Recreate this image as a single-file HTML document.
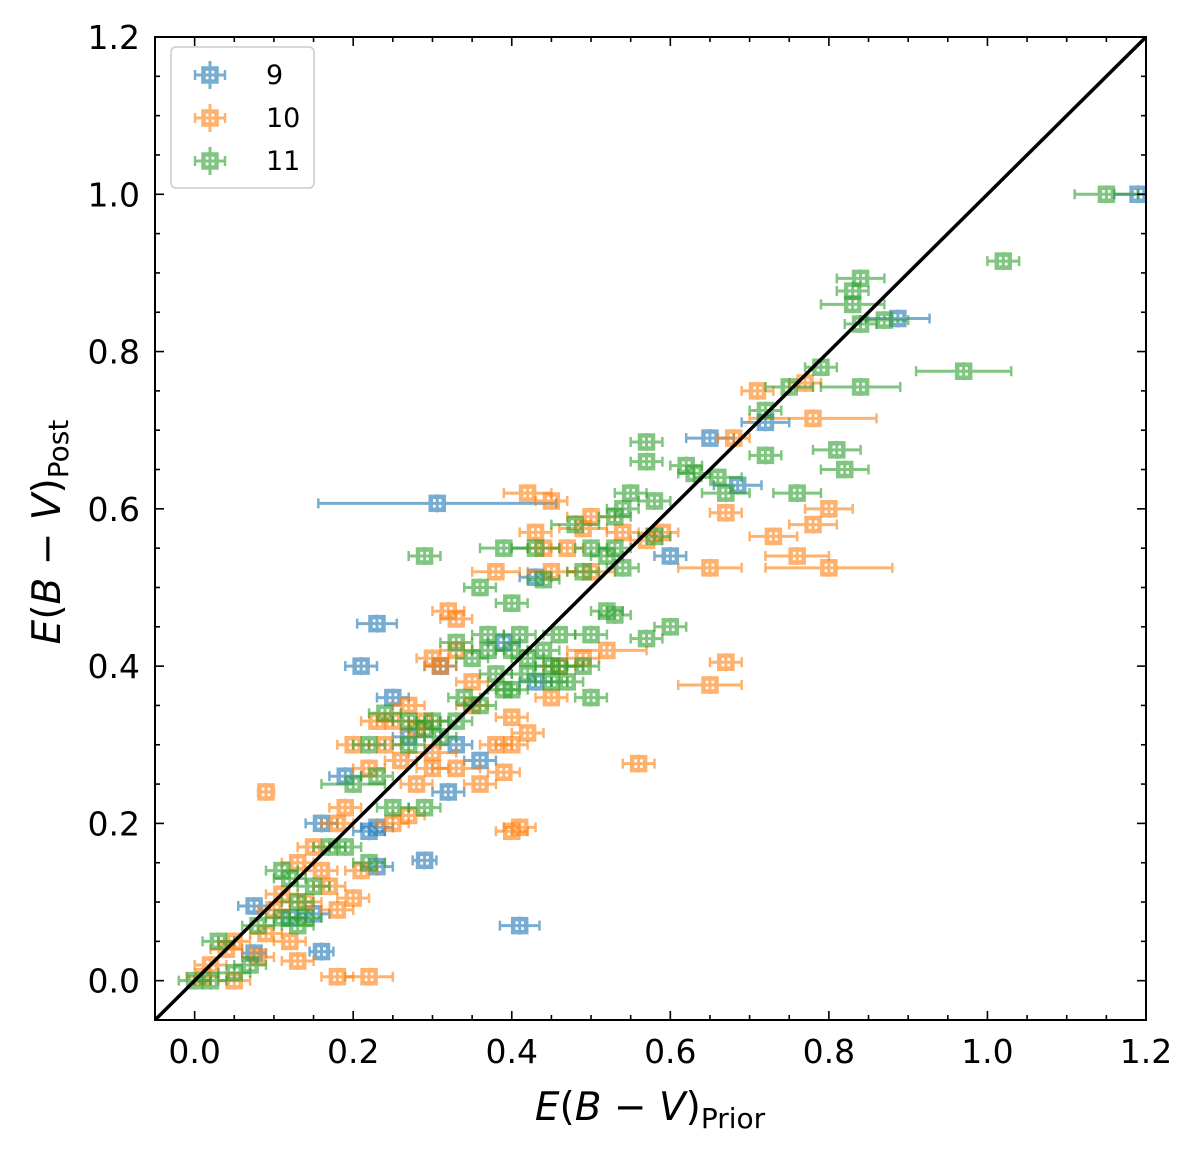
<!DOCTYPE html>
<html><head><meta charset="utf-8">
<style>
html,body{margin:0;padding:0;background:#fff;}
svg{display:block;font-family:"DejaVu Sans","Liberation Sans",sans-serif;}
</style></head>
<body>
<svg id="chart" width="1200" height="1151" viewBox="0 0 1200 1151" xmlns="http://www.w3.org/2000/svg">
<g id="marks"></g>
<g id="axes"></g>
</svg>
<script>
const blueX=[1.19,0.887,0.72,0.65,0.685,0.60,0.306,0.43,0.23,0.21,0.25,0.41,0.29,0.23,0.23,0.22,0.16,0.075,0.075,0.12,0.15,0.16,0.36,0.32,0.43,0.31,0.27,0.19,0.33,0.39];
const blueY=[1.0,0.842,0.71,0.69,0.63,0.54,0.607,0.513,0.454,0.40,0.36,0.07,0.153,0.145,0.195,0.19,0.037,0.095,0.035,0.08,0.085,0.2,0.28,0.24,0.38,0.40,0.31,0.26,0.30,0.43];
const blueXerr=[0.03,0.04,0.03,0.03,0.03,0.02,0.15,0.02,0.025,0.02,0.02,0.025,0.015,0.02,0.02,0.02,0.015,0.02,0.015,0.02,0.02,0.02,0.02,0.02,0.02,0.02,0.02,0.02,0.02,0.02];
const orangeX=[0.71,0.77,0.68,0.78,0.67,0.73,0.80,0.78,0.76,0.80,0.65,0.67,0.65,0.56,0.40,0.41,0.42,0.45,0.39,0.40,0.40,0.52,0.50,0.42,0.45,0.49,0.57,0.50,0.38,0.45,0.33,0.32,0.30,0.31,0.27,0.25,0.28,0.30,0.26,0.24,0.20,0.22,0.33,0.36,0.27,0.25,0.18,0.19,0.09,0.20,0.18,0.14,0.13,0.15,0.12,0.13,0.09,0.11,0.08,0.05,0.01,0.18,0.22,0.04,0.28,0.35,0.29,0.23,0.43,0.44,0.47,0.33,0.35,0.30,0.21,0.16,0.17,0.10,0.05,0.02,0.38,0.46,0.49,0.59,0.54];
const orangeY=[0.75,0.76,0.69,0.715,0.595,0.565,0.60,0.58,0.54,0.525,0.525,0.405,0.376,0.276,0.19,0.195,0.315,0.36,0.265,0.30,0.335,0.42,0.59,0.62,0.61,0.575,0.56,0.52,0.52,0.52,0.46,0.47,0.41,0.40,0.35,0.33,0.32,0.29,0.28,0.30,0.30,0.27,0.27,0.25,0.21,0.20,0.20,0.22,0.24,0.105,0.09,0.10,0.15,0.17,0.05,0.025,0.06,0.11,0.03,0.0,0.005,0.005,0.005,0.04,0.25,0.35,0.33,0.33,0.57,0.55,0.55,0.42,0.38,0.27,0.14,0.14,0.12,0.09,0.05,0.02,0.30,0.40,0.41,0.57,0.57];
const orangeXerr=[0.02,0.02,0.02,0.08,0.02,0.03,0.03,0.03,0.04,0.08,0.04,0.02,0.04,0.02,0.02,0.02,0.02,0.02,0.02,0.02,0.02,0.05,0.03,0.03,0.02,0.03,0.02,0.03,0.03,0.03,0.02,0.02,0.02,0.02,0.02,0.02,0.02,0.03,0.02,0.02,0.02,0.02,0.03,0.02,0.02,0.02,0.02,0.02,0.01,0.02,0.02,0.02,0.02,0.02,0.02,0.02,0.02,0.02,0.02,0.02,0.02,0.02,0.03,0.02,0.02,0.02,0.02,0.02,0.02,0.02,0.02,0.02,0.02,0.02,0.02,0.02,0.02,0.02,0.02,0.02,0.02,0.02,0.02,0.02,0.02];
const greenX=[1.15,1.02,0.84,0.83,0.83,0.84,0.87,0.79,0.84,0.97,0.75,0.72,0.72,0.81,0.82,0.76,0.66,0.67,0.62,0.63,0.57,0.57,0.58,0.55,0.58,0.60,0.57,0.53,0.50,0.49,0.50,0.45,0.43,0.39,0.44,0.48,0.53,0.50,0.53,0.54,0.29,0.36,0.40,0.41,0.37,0.33,0.35,0.39,0.40,0.36,0.34,0.45,0.47,0.33,0.29,0.27,0.24,0.22,0.23,0.27,0.30,0.31,0.29,0.25,0.20,0.22,0.19,0.17,0.15,0.12,0.13,0.11,0.11,0.14,0.13,0.08,0.05,0.03,0.02,0.0,0.07,0.37,0.40,0.42,0.44,0.46,0.46,0.42,0.38,0.52,0.54,0.52,0.49];
const greenY=[1.0,0.915,0.893,0.877,0.86,0.835,0.84,0.78,0.755,0.775,0.755,0.725,0.668,0.675,0.65,0.62,0.64,0.62,0.655,0.645,0.685,0.66,0.61,0.62,0.565,0.45,0.435,0.465,0.44,0.40,0.36,0.40,0.55,0.55,0.51,0.58,0.55,0.55,0.59,0.525,0.54,0.50,0.48,0.44,0.44,0.43,0.41,0.37,0.37,0.35,0.36,0.38,0.38,0.33,0.32,0.33,0.34,0.30,0.26,0.30,0.33,0.31,0.22,0.22,0.25,0.15,0.17,0.17,0.12,0.13,0.10,0.08,0.14,0.08,0.07,0.07,0.01,0.05,0.0,0.0,0.02,0.42,0.42,0.41,0.42,0.44,0.40,0.39,0.39,0.47,0.60,0.54,0.52];
const greenXerr=[0.04,0.02,0.03,0.02,0.04,0.02,0.03,0.02,0.05,0.06,0.03,0.02,0.02,0.03,0.03,0.03,0.03,0.03,0.02,0.02,0.02,0.02,0.02,0.02,0.02,0.02,0.02,0.02,0.02,0.02,0.02,0.02,0.03,0.03,0.02,0.03,0.02,0.02,0.02,0.02,0.02,0.02,0.02,0.02,0.02,0.02,0.02,0.02,0.02,0.02,0.02,0.02,0.02,0.02,0.02,0.02,0.02,0.02,0.02,0.02,0.02,0.02,0.02,0.02,0.04,0.02,0.02,0.02,0.02,0.02,0.02,0.02,0.02,0.02,0.02,0.02,0.02,0.02,0.02,0.02,0.02,0.02,0.02,0.02,0.02,0.02,0.03,0.02,0.02,0.02,0.02,0.02,0.02];
const xTicks=[0.0,0.2,0.4,0.6,0.8,1.0,1.2];
const yTicks=[0.0,0.2,0.4,0.6,0.8,1.0,1.2];
const legendLabels=["9","10","11"];

const NS="http://www.w3.org/2000/svg";
const L=155,R=1146,T=37,B=1020;
const xmin=-0.05,xmax=1.2,ymin=-0.05,ymax=1.2;
const sx=v=>L+(v-xmin)/(xmax-xmin)*(R-L);
const sy=v=>B-(v-ymin)/(ymax-ymin)*(B-T);
function el(tag,attrs,parent){const e=document.createElementNS(NS,tag);for(const k in attrs)e.setAttribute(k,attrs[k]);parent.appendChild(e);return e;}
const marks=document.getElementById('marks');
const axes=document.getElementById('axes');
el('clipPath',{id:'clip'},marks).appendChild(document.createElementNS(NS,'rect'));
const cr=marks.querySelector('clipPath rect');cr.setAttribute('x',L);cr.setAttribute('y',T);cr.setAttribute('width',R-L);cr.setAttribute('height',B-T);
const pg=el('g',{'clip-path':'url(#clip)'},marks);

function drawPoint(g,x,y,xe,color,name){
  const gp=el('g',{opacity:0.6},g);
  
  
  const cx=sx(x),cy=sy(y),x1=sx(x-xe),x2=sx(x+xe),ye=9;
  el('line',{x1:x1,y1:cy,x2:x2,y2:cy,stroke:color,'stroke-width':3},gp);
  el('line',{x1:x1,y1:cy-5,x2:x1,y2:cy+5,stroke:color,'stroke-width':2.5},gp);
  el('line',{x1:x2,y1:cy-5,x2:x2,y2:cy+5,stroke:color,'stroke-width':2.5},gp);
  el('line',{x1:cx,y1:cy-ye,x2:cx,y2:cy+ye,stroke:color,'stroke-width':3},gp);
  el('rect',{x:cx-6.5,y:cy-6.5,width:13,height:13,fill:'none',stroke:color,'stroke-width':4.5},gp);
}
const series=[[blueX,blueY,blueXerr,'#1f77b4','blue'],[orangeX,orangeY,orangeXerr,'#ff7f0e','orange'],[greenX,greenY,greenXerr,'#2ca02c','green']];
series.forEach(s=>{
  const g=el('g',{},pg);
  
  
  for(let i=0;i<s[0].length;i++)drawPoint(g,s[0][i],s[1][i],s[2][i],s[3],'point-'+s[4]);
});
const idl=el('line',{x1:sx(-0.05),y1:sy(-0.05),x2:sx(1.2),y2:sy(1.2),stroke:'#000','stroke-width':3.5},pg);



const fr=el('rect',{x:L,y:T,width:R-L,height:B-T,fill:'none',stroke:'#000','stroke-width':2},axes);


for(let v=0;v<=1.2001;v+=0.05){
  const major=Math.abs(v*5-Math.round(v*5))<1e-6;const len=major?9:5;
  const X=sx(v),Y=sy(v);
  el('line',{x1:X,y1:B,x2:X,y2:B-len,stroke:'#000','stroke-width':1.6},axes);
  el('line',{x1:X,y1:T,x2:X,y2:T+len,stroke:'#000','stroke-width':1.6},axes);
  el('line',{x1:L,y1:Y,x2:L+len,y2:Y,stroke:'#000','stroke-width':1.6},axes);
  el('line',{x1:R,y1:Y,x2:R-len,y2:Y,stroke:'#000','stroke-width':1.6},axes);
}
xTicks.forEach(v=>{const t=el('text',{x:sx(v),y:1063,'font-size':33,'text-anchor':'middle'},axes);t.textContent=v.toFixed(1);
  });
yTicks.forEach(v=>{const t=el('text',{x:140,y:sy(v)+12,'font-size':33,'text-anchor':'end'},axes);t.textContent=v.toFixed(1);
  });
const xt=el('text',{x:650,y:1120,'font-size':39,'text-anchor':'middle'},axes);
xt.innerHTML='<tspan font-style="italic">E</tspan>(<tspan font-style="italic">B</tspan> − <tspan font-style="italic">V</tspan>)<tspan font-size="28" dy="8">Prior</tspan>';

const yt=el('text',{x:0,y:0,'font-size':39,'text-anchor':'middle',transform:'translate(60,532) rotate(-90)'},axes);
yt.innerHTML='<tspan font-style="italic">E</tspan>(<tspan font-style="italic">B</tspan> − <tspan font-style="italic">V</tspan>)<tspan font-size="28" dy="8">Post</tspan>';

const lg=el('g',{},axes);

el('rect',{x:171,y:47,width:143,height:141,rx:5,fill:'#fff','fill-opacity':0.8,stroke:'#ccc','stroke-width':1.5},lg);
const lcol=['#1f77b4','#ff7f0e','#2ca02c'];
legendLabels.forEach((lab,i)=>{
  const ly=75+i*43;
  const e=el('g',{opacity:0.6},lg);
  
  el('line',{x1:195,y1:ly,x2:225,y2:ly,stroke:lcol[i],'stroke-width':3},e);
  el('line',{x1:195,y1:ly-5,x2:195,y2:ly+5,stroke:lcol[i],'stroke-width':2.5},e);
  el('line',{x1:225,y1:ly-5,x2:225,y2:ly+5,stroke:lcol[i],'stroke-width':2.5},e);
  el('line',{x1:210,y1:ly-14,x2:210,y2:ly+14,stroke:lcol[i],'stroke-width':3},e);
  el('rect',{x:203.5,y:ly-6.5,width:13,height:13,fill:'none',stroke:lcol[i],'stroke-width':4.5},e);
  const t=el('text',{x:266,y:ly+9,'font-size':27},lg);t.textContent=lab;
  
});
</script>
</body></html>
